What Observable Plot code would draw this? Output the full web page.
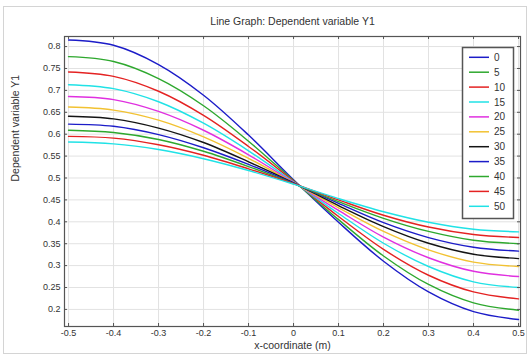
<!DOCTYPE html>
<html>
<head>
<meta charset="utf-8">
<script src="https://cdn.jsdelivr.net/npm/d3@7"></script>
<script src="https://cdn.jsdelivr.net/npm/@observablehq/plot@0.6"></script>
<style>
  html, body { margin: 0; padding: 0; background: #fff; }
  #wrap { position: relative; width: 531px; height: 358px; overflow: hidden; }
  #border { position: absolute; left: 3px; top: 6px; width: 524px; height: 348px; border: 1px solid #d4d4d4; box-sizing: border-box; pointer-events: none; }
  #legend { position: absolute; left: 461px; top: 46px; }
  svg { font-family: "Liberation Sans", Arial, sans-serif; }
</style>
</head>
<body>
<div id="wrap"><div id="border"></div><div id="chart"></div><div id="legend"></div></div>
<script>
const titleText = "Line Graph: Dependent variable Y1";
const xLabel = "x-coordinate (m)";
const yLabel = "Dependent variable Y1";

const xValues = [-0.5, -0.4, -0.3, -0.2, -0.1, 0, 0.1, 0.2, 0.3, 0.4, 0.5];
const seriesNames = ["0", "5", "10", "15", "20", "25", "30", "35", "40", "45", "50"];
const seriesColors = ["#1c1cc8", "#2ea82e", "#e42222", "#20e2e6", "#e030e0", "#f2c232", "#141414", "#1c1cc8", "#2ea82e", "#e42222", "#20e2e6"];

const y_0  = [0.815, 0.803, 0.759, 0.689, 0.598, 0.496, 0.399, 0.310, 0.240, 0.195, 0.177];
const y_5  = [0.777, 0.766, 0.727, 0.665, 0.584, 0.494, 0.405, 0.322, 0.257, 0.215, 0.198];
const y_10 = [0.742, 0.732, 0.698, 0.643, 0.572, 0.493, 0.412, 0.337, 0.278, 0.240, 0.224];
const y_15 = [0.713, 0.704, 0.674, 0.625, 0.562, 0.491, 0.419, 0.351, 0.298, 0.263, 0.250];
const y_20 = [0.686, 0.679, 0.652, 0.609, 0.553, 0.490, 0.426, 0.365, 0.318, 0.287, 0.275];
const y_25 = [0.662, 0.655, 0.632, 0.594, 0.545, 0.489, 0.432, 0.378, 0.336, 0.308, 0.298];
const y_30 = [0.641, 0.635, 0.614, 0.581, 0.537, 0.489, 0.437, 0.389, 0.351, 0.326, 0.316];
const y_35 = [0.623, 0.618, 0.599, 0.569, 0.531, 0.488, 0.442, 0.398, 0.364, 0.342, 0.333];
const y_40 = [0.609, 0.604, 0.588, 0.561, 0.526, 0.487, 0.446, 0.408, 0.378, 0.358, 0.350];
const y_45 = [0.595, 0.591, 0.576, 0.552, 0.521, 0.487, 0.450, 0.415, 0.388, 0.371, 0.364];
const y_50 = [0.582, 0.578, 0.565, 0.544, 0.517, 0.486, 0.453, 0.423, 0.399, 0.383, 0.377];

const xTicks = [-0.5, -0.4, -0.3, -0.2, -0.1, 0, 0.1, 0.2, 0.3, 0.4, 0.5];
const yTicks = [0.2, 0.25, 0.3, 0.35, 0.4, 0.45, 0.5, 0.55, 0.6, 0.65, 0.7, 0.75, 0.8];

const ySeries = [y_0, y_5, y_10, y_15, y_20, y_25, y_30, y_35, y_40, y_45, y_50];
const data = [];
seriesNames.forEach((name, i) => {
  xValues.forEach((x, j) => data.push({series: name, x, y: ySeries[i][j]}));
});

const fmt = d => String(+d.toFixed(2));
const W = 531, H = 358, mT = 36, mB = 32, mL = 64, mR = 11;
const innerH = H - mT - mB, innerW = W - mL - mR;
const tickLen = 3;
const textColor = "#333";

const chart = Plot.plot({
  width: W, height: H,
  marginTop: mT, marginBottom: mB, marginLeft: mL, marginRight: mR,
  style: {fontFamily: "'Liberation Sans', Arial, sans-serif", color: textColor, background: "transparent"},
  x: {domain: [-0.509, 0.5044]},
  y: {domain: [0.161, 0.823]},
  color: {domain: seriesNames, range: seriesColors},
  marks: [
    Plot.gridX(xTicks, {stroke: "#e2e2e2", strokeOpacity: 1}),
    Plot.gridY(yTicks, {stroke: "#e2e2e2", strokeOpacity: 1}),
    Plot.line(data, {x: "x", y: "y", z: "series", stroke: "series", strokeWidth: 1.4, curve: "catmull-rom"}),
    Plot.frame({stroke: "#555", strokeWidth: 1.2}),
    Plot.tickX(xTicks, {x: d => d, insetTop: innerH - tickLen, stroke: "#555"}),
    Plot.tickX(xTicks, {x: d => d, insetBottom: innerH - tickLen, stroke: "#555"}),
    Plot.tickY(yTicks, {y: d => d, insetRight: innerW - tickLen, stroke: "#555"}),
    Plot.tickY(yTicks, {y: d => d, insetLeft: innerW - tickLen, stroke: "#555"}),
    Plot.axisX(xTicks, {tickSize: 0, tickPadding: 3, tickFormat: fmt, fontSize: 9, label: null, fill: textColor}),
    Plot.axisY(yTicks, {tickSize: 0, tickPadding: 4, tickFormat: fmt, fontSize: 9, label: null, fill: textColor}),
    Plot.text([titleText], {frameAnchor: "top", dy: -19, fontSize: 10.5, fill: textColor}),
    Plot.text([xLabel], {frameAnchor: "bottom", dy: 22, fontSize: 10.5, fill: textColor}),
    Plot.text([yLabel], {frameAnchor: "left", dx: -49, rotate: -90, fontSize: 10.5, fill: textColor})
  ]
});
document.getElementById("chart").appendChild(chart);

// Legend
const lw = 51, rowH = 14.9, firstY = 11.3;
const lh = 171;
const leg = d3.select("#legend").append("svg").attr("width", lw + 3).attr("height", lh + 3);
leg.append("rect").attr("x", 1.5).attr("y", 1.5).attr("width", lw).attr("height", lh)
  .attr("fill", "#fff").attr("stroke", "#555").attr("stroke-width", 1.5);
seriesNames.forEach((name, i) => {
  const yy = firstY + i * rowH;
  leg.append("line").attr("x1", 8).attr("x2", 28).attr("y1", yy).attr("y2", yy)
    .attr("stroke", seriesColors[i]).attr("stroke-width", 1.5);
  leg.append("text").attr("x", 33).attr("y", yy).attr("dy", "0.35em")
    .attr("font-size", 10).attr("fill", textColor).text(name);
});
</script>
</body>
</html>
